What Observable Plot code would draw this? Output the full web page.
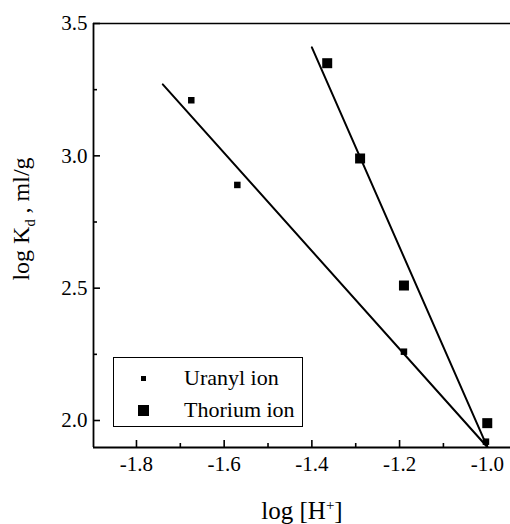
<!DOCTYPE html>
<html><head><meta charset="utf-8">
<script src="https://cdn.jsdelivr.net/npm/d3@7"></script>
<script src="https://cdn.jsdelivr.net/npm/@observablehq/plot@0.6"></script>
<style>
body{margin:0;background:#fff;}
#wrap{position:relative;width:510px;height:524px;font-family:"Liberation Serif","Times New Roman",Times,serif;color:#000;overflow:hidden;}
#wrap svg{position:absolute;left:0;top:0;}
#wrap svg text{font-family:"Liberation Serif","Times New Roman",Times,serif !important;}
.ylab{position:absolute;left:23px;top:219px;transform:translate(-50%,-50%) rotate(-90deg);white-space:nowrap;font-size:24px;line-height:1;}
.xlab{position:absolute;left:302px;top:498px;transform:translateX(-50%);white-space:nowrap;font-size:25px;line-height:1;}
sub,sup{font-size:0.6em;}
.legend{position:absolute;left:113px;top:357px;width:188px;height:68px;border:1.6px solid #000;background:#fff;}
.row{position:absolute;left:0;font-size:22px;line-height:1;white-space:nowrap;}
.row .m{position:absolute;background:#000;}
.row .t{position:absolute;left:70px;top:-11px;}
</style></head><body><div id="wrap"></div>
<script>
const uranylX = [-1.675, -1.57, -1.19, -1.003];
const uranylY = [3.21, 2.89, 2.26, 1.92];
const thoriumX = [-1.365, -1.29, -1.19, -1.0];
const thoriumY = [3.35, 2.99, 2.51, 1.99];
const uranylFitX = [-1.74, -1.0];
const uranylFitY = [3.27, 1.90];
const thoriumFitX = [-1.40, -1.0];
const thoriumFitY = [3.41, 1.90];
const xMajorTicks = [-1.8, -1.6, -1.4, -1.2, -1.0];
const xMinorTicks = [-1.7, -1.5, -1.3, -1.1];
const yMajorTicks = [2.0, 2.5, 3.0, 3.5];
const yMinorTicks = [2.25, 2.75, 3.25];
const xDomain = [-1.898, -0.947];
const yDomain = [1.898, 3.5];
const seriesNames = ["Uranyl ion", "Thorium ion"];
const xTitle = "log [H<sup>+</sup>]";
const yTitle = "log K<sub>d</sub> , ml/g";

const toRows = (xs, ys) => xs.map((x, i) => ({x, y: ys[i]}));
const fmt = d => d.toFixed(1);

const chart = Plot.plot({
  width: 510, height: 524,
  marginLeft: 93, marginRight: 0, marginTop: 23, marginBottom: 77,
  style: {fontFamily: "Liberation Serif, Times New Roman, serif", fontSize: "21px", color: "#000", background: "transparent", overflow: "visible"},
  x: {domain: xDomain},
  y: {domain: yDomain},
  marks: [
    Plot.ruleX([xDomain[0]], {strokeWidth: 1.8}),
    Plot.ruleY([yDomain[0]], {strokeWidth: 1.8}),
    Plot.ruleY([yDomain[1]], {strokeWidth: 1.5}),
    Plot.ruleX(xMajorTicks, {y1: yDomain[0], y2: yDomain[0], insetTop: -7, strokeWidth: 1.6}),
    Plot.ruleX(xMinorTicks, {y1: yDomain[0], y2: yDomain[0], insetTop: -4, strokeWidth: 1.6}),
    Plot.ruleY(yMajorTicks, {x1: xDomain[0], x2: xDomain[0], insetRight: -7, strokeWidth: 1.6}),
    Plot.ruleY(yMinorTicks, {x1: xDomain[0], x2: xDomain[0], insetRight: -4, strokeWidth: 1.6}),
    Plot.axisX(xMajorTicks, {tickSize: 0, tickPadding: 9, tickFormat: fmt, fontSize: 21, label: null}),
    Plot.axisY(yMajorTicks, {tickSize: 0, tickPadding: 6, tickFormat: fmt, fontSize: 21, label: null}),
    Plot.line(toRows(uranylFitX, uranylFitY), {x: "x", y: "y", stroke: "#000", strokeWidth: 2}),
    Plot.line(toRows(thoriumFitX, thoriumFitY), {x: "x", y: "y", stroke: "#000", strokeWidth: 2}),
    Plot.dot(toRows(uranylX, uranylY), {x: "x", y: "y", symbol: "square", r: 6.5 / Math.sqrt(Math.PI), fill: "#000", stroke: "none"}),
    Plot.dot(toRows(thoriumX, thoriumY), {x: "x", y: "y", symbol: "square", r: 10 / Math.sqrt(Math.PI), fill: "#000", stroke: "none"})
  ]
});

const wrap = document.getElementById("wrap");
wrap.appendChild(chart);

const yl = document.createElement("div"); yl.className = "ylab"; yl.innerHTML = yTitle; wrap.appendChild(yl);
const xl = document.createElement("div"); xl.className = "xlab"; xl.innerHTML = xTitle; wrap.appendChild(xl);

const lg = document.createElement("div"); lg.className = "legend";
const markerSizes = [5, 11];
const rowTops = [20, 52];
seriesNames.forEach((name, i) => {
  const r = document.createElement("div"); r.className = "row"; r.style.top = rowTops[i] + "px";
  const m = document.createElement("div"); m.className = "m";
  const s = markerSizes[i];
  m.style.width = s + "px"; m.style.height = s + "px"; m.style.left = (29 - s / 2) + "px"; m.style.top = (-s / 2) + "px";
  const t = document.createElement("div"); t.className = "t"; t.textContent = name;
  r.appendChild(m); r.appendChild(t); lg.appendChild(r);
});
wrap.appendChild(lg);
</script>
</body></html>
